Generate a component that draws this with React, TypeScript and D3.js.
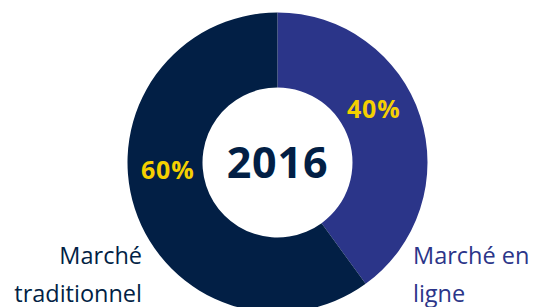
import React from "react";
import * as d3 from "d3";

const categories = ["Marché en ligne", "Marché traditionnel"];
const values = [40, 60];
const percentLabels = ["40%", "60%"];
const labelAnglesDeg = [61, 266];
const colors = ["#2b3589", "#021f45"];
const centerTitle = "2016";

export default function App() {
  const W = 537, H = 307;
  const cx = 277.5, cy = 162.5;
  const outerR = 150, innerR = 75;
  const pie = d3.pie<number>().sort(null).value((d) => d)(values);
  const arc = d3.arc<d3.PieArcDatum<number>>().innerRadius(innerR).outerRadius(outerR);
  const labelR = 110;
  const font = "'Open Sans', sans-serif";
  return (
    <svg width={W} height={H} style={{ position: "absolute", left: 0, top: 0 }}>
      <g transform={`translate(${cx},${cy})`}>
        {pie.map((p, i) => (
          <path key={i} d={arc(p) || ""} fill={colors[i]} />
        ))}
        {pie.map((p, i) => {
          const a = (labelAnglesDeg[i] * Math.PI) / 180;
          const x = labelR * Math.sin(a);
          const y = -labelR * Math.cos(a);
          return (
            <text key={"l" + i} x={x} y={y} dy="0.36em" textAnchor="middle" fill="#f5d000"
              fontFamily={font} fontWeight={700} fontSize={25} letterSpacing={0.8}>
              {percentLabels[i]}
            </text>
          );
        })}
        <text x={0} y={0} dy="0.36em" textAnchor="middle" fill="#021f45" fontFamily={font}
          fontWeight={700} fontSize={43} letterSpacing={0.8}>
          {centerTitle}
        </text>
      </g>
      <text x={142} y={264} textAnchor="end" fill="#021f45" fontFamily={font} fontSize={23.5}>
        <tspan x={142}>{categories[1].split(" ")[0]}</tspan>
        <tspan x={142} dy={37.5}>{categories[1].split(" ")[1]}</tspan>
      </text>
      <text x={413} y={264} textAnchor="start" fill="#2b3589" fontFamily={font} fontSize={23.5}>
        <tspan x={413}>Marché en</tspan>
        <tspan x={413} dy={37.5}>ligne</tspan>
      </text>
    </svg>
  );
}
